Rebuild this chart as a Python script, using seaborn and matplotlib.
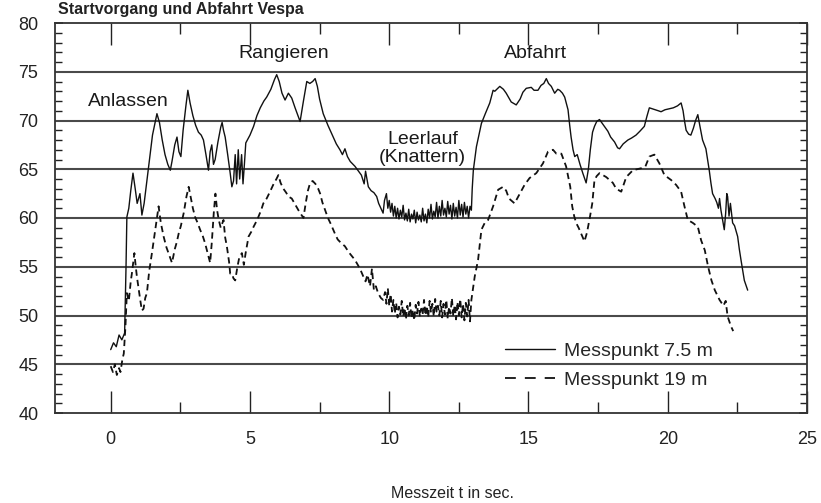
import matplotlib
matplotlib.use("Agg")
import matplotlib.pyplot as plt
import seaborn as sns
import pandas as pd
from matplotlib.lines import Line2D
from matplotlib.ticker import MultipleLocator

# ---------------- data ----------------
t_near = [0.0, 0.1, 0.2, 0.3, 0.4, 0.5, 0.55, 0.58, 0.65, 0.72, 0.8, 0.88, 0.95, 1.05, 1.12, 1.2,
          1.35, 1.5, 1.66, 1.75, 1.85, 1.95, 2.05, 2.14, 2.2, 2.3, 2.38, 2.45, 2.52, 2.6, 2.7, 2.77,
          2.85, 2.95, 3.05, 3.15, 3.25, 3.33, 3.42, 3.51, 3.57, 3.63, 3.69, 3.75, 3.85, 3.95, 4.0,
          4.05, 4.11, 4.2, 4.29, 4.35, 4.41, 4.47, 4.52, 4.58, 4.63, 4.7, 4.75, 4.8, 4.85, 5.0,
          5.13, 5.25, 5.37, 5.5, 5.6, 5.75, 5.88, 5.96, 6.05, 6.15, 6.26, 6.38, 6.5, 6.62, 6.8,
          6.92, 7.04, 7.15, 7.25, 7.34, 7.42, 7.5, 7.63, 7.8, 7.99, 8.1, 8.23, 8.32, 8.41, 8.5,
          8.6, 8.77, 8.9, 9.0, 9.1, 9.15, 9.25, 9.35, 9.45, 9.55, 9.62, 9.7, 9.78, 9.83, 9.9, 9.95,
          10.0, 10.05, 10.1, 10.15, 10.2, 10.25, 10.3, 10.35, 10.4, 10.45, 10.5, 10.55, 10.6,
          10.65, 10.7, 10.75, 10.8, 10.85, 10.9, 10.95, 11.0, 11.05, 11.1, 11.15, 11.2, 11.25,
          11.3, 11.35, 11.4, 11.45, 11.5, 11.55, 11.6, 11.65, 11.7, 11.75, 11.8, 11.85, 11.9,
          11.95, 12.0, 12.05, 12.1, 12.15, 12.2, 12.25, 12.3, 12.35, 12.4, 12.45, 12.5, 12.55,
          12.6, 12.65, 12.7, 12.75, 12.8, 12.85, 12.9, 12.95, 12.98, 13.02, 13.13, 13.31,
          13.45, 13.61, 13.73, 13.79, 13.97, 14.1, 14.2, 14.38, 14.56, 14.7, 14.8, 14.92, 15.1,
          15.2, 15.34, 15.45, 15.55, 15.64, 15.72, 15.82, 15.94, 16.05, 16.12, 16.22, 16.3,
          16.42, 16.48, 16.53, 16.6, 16.66, 16.75, 16.85, 16.95, 17.07, 17.15, 17.22, 17.3,
          17.37, 17.45, 17.55, 17.7, 17.85, 17.95, 18.09, 18.2, 18.27, 18.4, 18.57, 18.7, 18.86,
          19.0, 19.16, 19.25, 19.34, 19.45, 19.55, 19.66, 19.76, 19.9, 20.05, 20.2, 20.35,
          20.48, 20.55, 20.6, 20.66, 20.75, 20.83, 20.92, 21.0, 21.08, 21.15, 21.25, 21.37,
          21.43, 21.49, 21.55, 21.61, 21.7, 21.76, 21.82, 21.86, 21.91, 21.97, 22.03, 22.08,
          22.12, 22.15, 22.2, 22.25, 22.33, 22.4, 22.51, 22.57, 22.63, 22.7, 22.75, 22.82, 22.87]
db_near = [46.5, 47.2, 46.8, 48.0, 47.5, 48.2, 55.0, 60.1, 61.0, 62.8, 64.6, 63.0, 61.5, 62.5, 60.3, 61.5,
           65.0, 68.5, 70.7, 69.8, 68.0, 66.5, 65.5, 64.9, 65.8, 67.5, 68.3, 66.8, 66.3, 69.0, 71.5, 73.1,
           71.8, 70.5, 69.5, 68.8, 68.5, 68.0, 66.5, 64.9, 66.8, 67.5, 65.5, 66.0, 67.8, 69.3, 69.8,
           69.0, 68.3, 66.5, 64.6, 63.2, 63.8, 66.5, 63.5, 67.0, 64.0, 66.5, 63.5, 65.5, 67.7, 68.5,
           69.4, 70.5, 71.3, 72.0, 72.4, 73.2, 74.2, 74.7, 74.0, 72.8, 72.1, 72.8, 72.3, 71.3, 69.9,
           72.0, 74.0, 73.8, 74.0, 74.3, 73.5, 72.2, 70.7, 69.5, 68.3, 67.6, 67.0, 66.5, 67.1, 66.3,
           65.8, 65.3, 64.8, 64.4, 63.5, 64.8, 63.2, 62.8, 62.6, 62.2, 61.5, 61.0, 60.5, 61.8, 62.5, 61.0,
           61.8, 60.6, 61.5, 60.2, 61.2, 60.0, 61.0, 59.9, 60.8, 60.1, 61.3, 59.8, 60.5,
           59.7, 60.9, 59.6, 60.4, 59.9, 60.8, 59.5, 60.6, 59.8, 60.3, 59.6, 61.0, 59.7,
           60.4, 59.5, 60.9, 60.0, 61.4, 59.9, 60.7, 60.1, 61.6, 60.0, 61.2, 60.2, 61.8,
           60.3, 61.0, 60.1, 61.7, 60.4, 61.3, 59.9, 61.5, 60.2, 61.1, 60.0, 61.8, 60.3,
           61.4, 60.1, 61.6, 60.4, 61.2, 60.0, 61.2, 60.8, 63.0, 64.9, 67.3, 69.7,
           70.7, 71.8, 73.1, 73.0, 73.5, 73.2, 72.8, 71.9, 71.6, 72.2, 72.9, 73.3, 73.4,
           73.1, 73.1, 73.6, 73.8, 74.3, 73.8, 73.5, 72.8, 73.2, 73.1, 72.8, 72.4,
           71.1, 69.5, 68.3, 67.0, 66.3, 66.5, 65.5, 64.6, 63.6, 65.0, 67.0, 68.8,
           69.4, 69.9, 70.1, 69.5, 68.9, 68.3, 67.8, 67.2, 67.1, 67.6, 68.0, 68.2, 68.5,
           68.9, 69.4, 70.4, 71.3, 71.2, 71.1, 71.0, 70.9, 71.1, 71.2, 71.3, 71.5,
           71.8, 71.0, 70.0, 69.0, 68.6, 68.5, 69.2, 70.0, 70.6, 69.5, 68.0, 67.1,
           66.0, 64.9, 63.6, 62.5, 62.0, 61.6, 61.0, 62.0, 60.8, 59.8, 58.8, 60.5,
           62.5, 62.2, 60.2, 61.5, 59.5, 59.2, 58.1, 56.8, 55.7, 54.5, 53.6, 53.0, 52.6]

t_far = [0.0, 0.08, 0.15, 0.22, 0.3, 0.35, 0.42, 0.47, 0.53, 0.58, 0.65, 0.72, 0.76, 0.85, 0.9, 0.94,
         1.0, 1.06, 1.12, 1.18, 1.24, 1.3, 1.38, 1.48, 1.6, 1.66, 1.72, 1.8, 1.9, 2.0, 2.1, 2.2, 2.3,
         2.37, 2.44, 2.52, 2.62, 2.72, 2.8, 2.88, 2.95, 3.03, 3.12, 3.21, 3.3, 3.39, 3.48, 3.57, 3.63,
         3.7, 3.76, 3.82, 3.88, 3.95, 4.05, 4.11, 4.17, 4.25, 4.29, 4.35, 4.41, 4.47, 4.55, 4.62, 4.71,
         4.78, 4.85, 4.95, 5.05, 5.13, 5.22, 5.3, 5.4, 5.48, 5.6, 5.72, 5.85, 5.95, 6.02, 6.1, 6.2,
         6.3, 6.38, 6.5, 6.6, 6.74, 6.85, 6.92, 7.0, 7.08, 7.16, 7.25, 7.35, 7.45, 7.52, 7.6, 7.7,
         7.8, 7.9, 8.05, 8.15, 8.25, 8.41, 8.5, 8.6, 8.77, 8.95, 9.07, 9.15, 9.22, 9.31, 9.38, 9.45,
         9.52, 9.6, 9.7, 9.78, 9.85, 9.9, 9.95,
         10.0, 10.05, 10.1, 10.15, 10.2, 10.25, 10.3, 10.35, 10.4, 10.45, 10.5, 10.55, 10.6,
         10.65, 10.7, 10.75, 10.8, 10.85, 10.9, 10.95, 11.0, 11.05, 11.1, 11.15, 11.2, 11.25,
         11.3, 11.35, 11.4, 11.45, 11.5, 11.55, 11.6, 11.65, 11.7, 11.75, 11.8, 11.85, 11.9,
         11.95, 12.0, 12.05, 12.1, 12.15, 12.2, 12.25, 12.3, 12.35, 12.4, 12.45, 12.5, 12.55,
         12.6, 12.65, 12.7, 12.75, 12.8, 12.85, 12.9, 12.95, 13.07, 13.19, 13.31, 13.43, 13.55,
         13.73, 13.91, 14.09, 14.2, 14.3, 14.5, 14.65, 14.86, 15.04, 15.28, 15.52, 15.7, 15.88,
         16.0, 16.18, 16.35, 16.5, 16.57, 16.64, 16.71, 16.8, 16.89, 17.01, 17.1, 17.2, 17.29,
         17.37, 17.45, 17.55, 17.79, 18.03, 18.15, 18.33, 18.51, 18.75, 19.04, 19.2, 19.34,
         19.52, 19.7, 19.88, 20.12, 20.3, 20.48, 20.6, 20.72, 20.9, 21.08, 21.2, 21.33, 21.45,
         21.57, 21.69, 21.86, 22.0, 22.08, 22.15, 22.27, 22.35]
db_far = [44.8, 44.2, 45.0, 43.9, 44.6, 44.2, 45.5, 46.1, 48.9, 52.3, 51.5, 53.5, 54.3, 56.4, 55.0, 54.0,
          52.8, 51.6, 50.5, 50.7, 51.8, 52.3, 54.5, 56.4, 58.8, 60.0, 61.2, 59.5, 58.1, 57.0, 56.2, 55.4, 56.8,
          57.5, 58.4, 59.2, 60.5, 62.2, 63.2, 62.0, 61.0, 60.1, 59.5, 58.8, 58.2, 57.4, 56.4, 55.4, 57.5,
          60.5, 62.5, 60.8, 59.8, 59.0, 59.8, 58.0, 57.1, 55.5, 54.3, 54.3, 53.8, 53.6, 55.0, 56.0, 56.4,
          55.2, 56.5, 58.1, 58.6, 59.1, 59.6, 60.1, 60.8, 61.5, 62.0, 62.7, 63.5, 64.0, 64.4, 63.6, 63.0,
          62.6, 62.2, 62.0, 61.5, 60.8, 60.3, 60.0, 61.5, 62.8, 63.6, 63.8, 63.5, 63.0, 62.5, 61.6, 60.8,
          60.0, 59.4, 58.4, 57.8, 57.5, 57.1, 56.7, 56.3, 55.7, 54.8, 54.0, 53.5, 54.2, 53.0, 54.8, 52.6,
          53.0, 52.3, 51.8, 51.6, 52.4, 51.2, 52.8,
          51.0, 52.2, 50.4, 51.6, 50.2, 51.3, 49.8, 50.9, 50.1, 51.5, 49.9, 50.8, 49.6,
          51.0, 50.0, 51.3, 49.7, 50.6, 49.5, 51.1, 50.2, 51.4, 49.9, 50.7, 50.1, 51.6,
          50.0, 51.0, 49.8, 51.5, 50.3, 51.2, 49.9, 51.7, 50.4, 51.0, 50.0, 51.5, 49.8,
          51.2, 50.1, 51.6, 49.7, 50.9, 50.2, 51.8, 49.9, 51.1, 49.6, 51.4, 50.0, 51.7,
          49.8, 51.2, 49.5, 51.3, 49.9, 51.6, 49.4, 51.6, 54.0, 55.7, 58.8, 59.5, 59.8,
          61.2, 62.9, 63.2, 62.8, 62.0, 61.5, 62.3, 63.4, 64.1, 64.6, 65.6, 66.8, 67.0,
          66.6, 66.6, 65.3, 63.2, 61.2, 60.2, 59.5, 59.0, 58.4, 57.6, 58.5, 60.0, 61.5,
          63.9, 64.3, 64.6, 64.2, 63.6, 63.0, 62.7, 64.2, 64.9, 65.1, 65.3, 66.3,
          66.5, 65.6, 64.4, 63.9, 63.4, 62.7, 61.2, 59.8, 59.5, 59.1, 57.7, 56.7, 55.0,
          53.6, 52.6, 51.6, 51.0, 51.5, 49.9, 48.9, 48.4]

series_labels = ["Messpunkt 7.5 m", "Messpunkt 19 m"]
phase_labels = ["Anlassen", "Rangieren", "Abfahrt", "Leerlauf\n(Knattern)"]
title_text = "Startvorgang und Abfahrt Vespa"
x_label = "Messzeit t in sec."

# ---------------- style ----------------
sns.set_theme(style="white")
plt.rcParams["font.family"] = ["Liberation Sans", "DejaVu Sans"]

fig = plt.figure(figsize=(8.21, 5.03), dpi=100)
ax = fig.add_axes([55 / 821, 1 - 413 / 503, 752 / 821, 390 / 503])

df_near = pd.DataFrame({"t": t_near, "dB": db_near})
df_far = pd.DataFrame({"t": t_far, "dB": db_far})

for yv in range(45, 80, 5):
    ax.axhline(yv, color="#4a4a4a", lw=1.5, zorder=1)

sns.lineplot(data=df_near, x="t", y="dB", ax=ax, color="#111111", lw=1.0,
             estimator=None, sort=False, zorder=3)
sns.lineplot(data=df_far, x="t", y="dB", ax=ax, color="#111111", lw=1.3,
             estimator=None, sort=False, zorder=3, dashes=False)
ax.lines[-1].set_dashes((3.5, 2.3))

ax.set_xlim(-2, 25)
ax.set_ylim(40, 80)
ax.set_xlabel("")
ax.set_ylabel("")

ax.xaxis.set_major_locator(MultipleLocator(5))
ax.xaxis.set_minor_locator(MultipleLocator(2.5))
ax.yaxis.set_major_locator(MultipleLocator(5))
ax.yaxis.set_minor_locator(MultipleLocator(1))
ax.tick_params(axis="x", which="major", direction="in", length=16, width=1.0,
               top=True, bottom=True, pad=13, labelsize=13, colors="#222222")
ax.tick_params(axis="x", which="minor", direction="in", length=8, width=1.0,
               top=True, bottom=True, colors="#222222")
ax.tick_params(axis="y", which="major", direction="in", length=6, width=1.2,
               left=True, right=True, pad=12, labelsize=13, colors="#222222")
ax.tick_params(axis="y", which="minor", direction="in", length=5, width=1.0,
               left=True, right=True, colors="#222222")
for s in ax.spines.values():
    s.set_color("#333333")
    s.set_linewidth(1.3)

txt_kw = dict(fontsize=14, color="#1a1a1a", ha="center", va="center")
ax.text(0.62, 71.9, phase_labels[0], **txt_kw)
ax.text(6.2, 76.9, phase_labels[1], **txt_kw)
ax.text(15.27, 76.9, phase_labels[2], **txt_kw)
ax.text(11.2, 67.1, phase_labels[3], linespacing=1.05, **txt_kw)

handles = [Line2D([], [], color="#111111", lw=1.0),
           Line2D([], [], color="#111111", lw=1.3, dashes=(6, 5))]
ax.legend(handles, series_labels, loc="upper left", bbox_to_anchor=(0.598, 0.182),
          frameon=False, fontsize=14, handlelength=2.6, handletextpad=0.45,
          labelspacing=0.62, borderaxespad=0, borderpad=0)

fig.text(58 / 821, 1 - 14 / 503, title_text, fontsize=11.5, fontweight="bold",
         color="#222222", ha="left", va="baseline")
fig.text(452 / 821, 1 - 494 / 503, x_label, fontsize=11.5, color="#222222",
         ha="center", va="center")

fig.savefig("out.png", dpi=100)
